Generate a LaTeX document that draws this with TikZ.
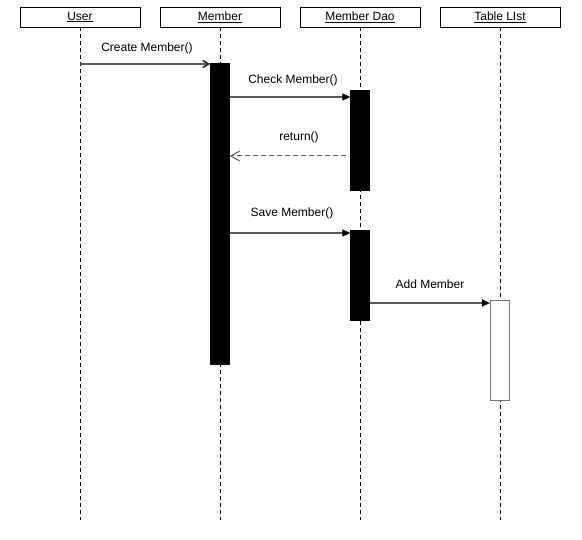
\documentclass[tikz,border=0pt]{standalone}
\usepackage{fontspec}
\setmainfont{Liberation Sans}
\usetikzlibrary{positioning,arrows.meta}
\tikzstyle{obj} = [draw=black, fill=white, minimum width=120pt, minimum height=20pt, inner sep=0pt, font=\fontsize{12}{14}\selectfont]
\tikzstyle{actbar} = [draw=black, fill=black, minimum width=19pt, inner sep=0pt, anchor=north]
\tikzstyle{life} = [black, dash pattern=on 4pt off 3pt]
\tikzstyle{msg} = [draw=black!65, line width=1.2pt, -{Triangle[length=8pt,width=7pt,black]}]
\tikzstyle{reply} = [draw=black!65, line width=1pt, -{Straight Barb[length=9pt,width=10pt]}]
\tikzstyle{lbl} = [font=\fontsize{12}{14}\selectfont, inner sep=1pt]

\begin{document}
\begin{tikzpicture}[x=1pt,y=-1pt]
\useasboundingbox (0,0) rectangle (582,540);
\node[obj] (user) at (80,17) {\underline{User}};
\node[obj] (member) at (220,17) {\underline{Member}};
\node[obj] (dao) at (360,17) {\underline{Member Dao}};
\node[obj] (table) at (500,17) {\underline{Table LIst}};
\coordinate (bottom) at (0,520);
\draw[life] (user.south) -- (user.south |- bottom);
\draw[life] (member.south) -- (member.south |- bottom);
\draw[life] (dao.south) -- (dao.south |- bottom);
\draw[life] (table.south) -- (table.south |- bottom);
% activations
\node[actbar, minimum height=301pt] (memA) at (220,63) {};
\node[actbar, minimum height=100pt] (daoA) at (360,90) {};
\node[actbar, minimum height=90pt] (daoB) at (360,230) {};
\node[actbar, fill=white, draw=black!55, line width=1.2pt, minimum height=100pt] (tabA) at (500,300) {};
% messages
\coordinate (create) at (80,64);
\coordinate (check) at (230,97);
\coordinate (ret) at (346,156);
\coordinate (save) at (230,233);
\coordinate (add) at (370,303);
\draw[msg, -{Straight Barb[length=6pt,width=7pt,black!85,line width=1.6pt]}] (create) -- (create -| memA.west);
\draw[msg] (check) -- (check -| daoA.west);
\draw[reply, dash pattern=on 5pt off 3pt] (ret) -- (ret -| memA.east);
\draw[msg] (save) -- (save -| daoB.west);
\draw[msg] (add) -- (add -| tabA.west);
\node[lbl] (lcreate) at (147,48) {Create Member()};
\node[lbl] (lcheck) at (293,80) {Check Member()};
\node[lbl] (lret) at (299,137) {return()};
\node[lbl] (lsave) at (292,213) {Save Member()};
\node[lbl] (ladd) at (430,284) {Add Member};
\end{tikzpicture}
\end{document}
